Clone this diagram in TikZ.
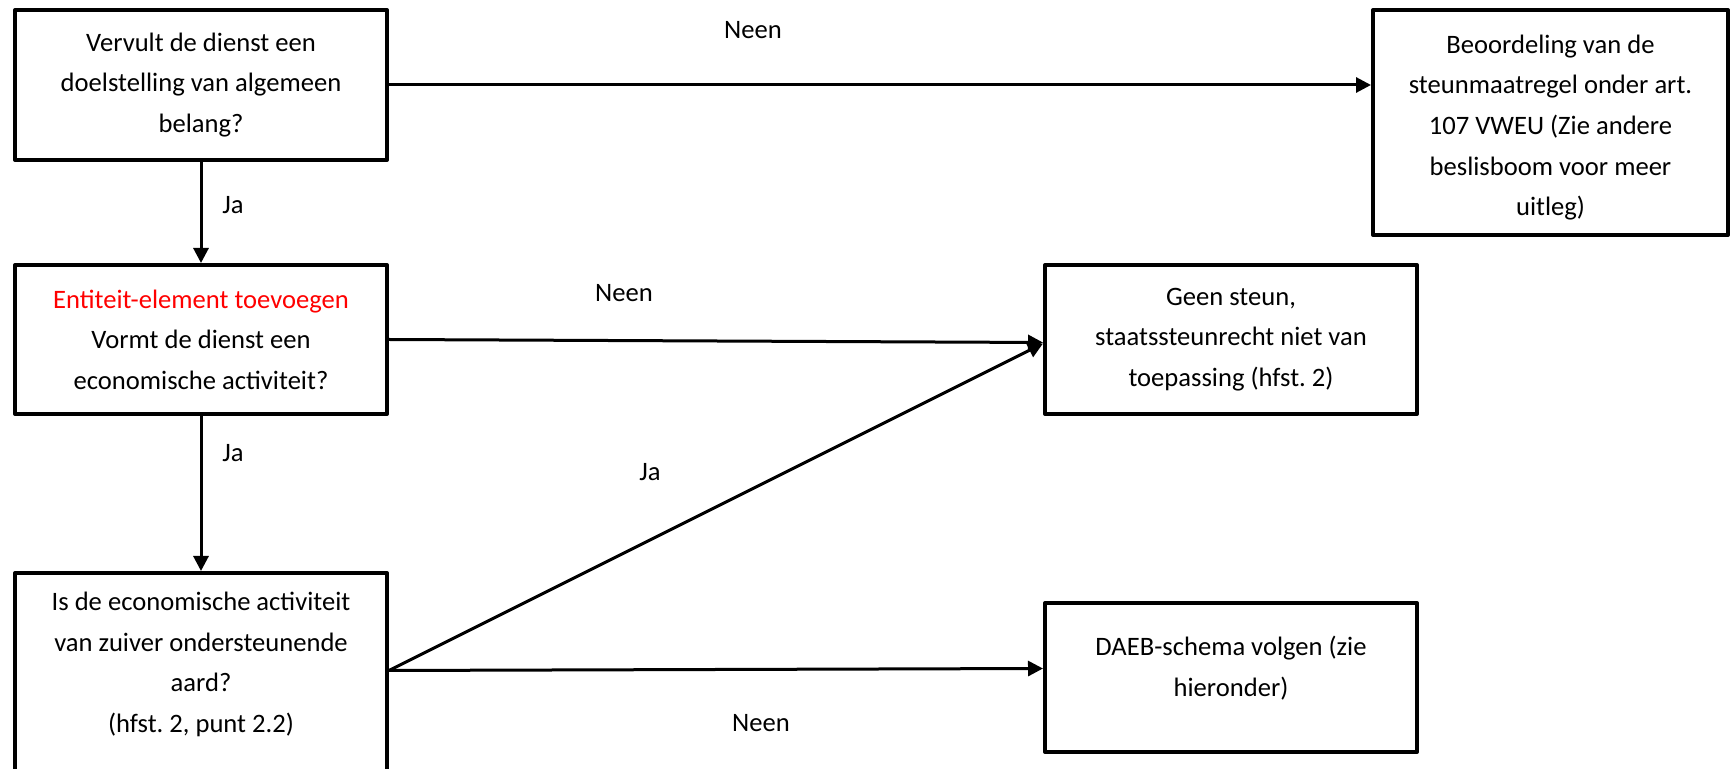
\documentclass[tikz,border=0pt]{standalone}
\usepackage{fontspec}
\setmainfont{Carlito}
\frenchspacing
\usetikzlibrary{arrows.meta,calc}
\definecolor{addred}{RGB}{255,0,0}
\tikzset{
  box/.style={draw=black, line width=2pt, line join=round, fill=white,
    align=center, inner sep=0pt, minimum width=186pt,
    font=\fontsize{13.3}{20.3}\selectfont},
  conn/.style={line width=1.5pt, -{Triangle[length=7.5pt,width=7.5pt]}},
  lbl/.style={inner sep=0pt, font=\fontsize{13.3}{20.3}\selectfont}
}
\begin{document}
\begin{tikzpicture}[x={(0.5pt,0)}, y={(0,-0.5pt)}]
\useasboundingbox (0,0) rectangle (1731,769);
\clip (0,0) rectangle (1731,769);
\fill[white] (0,0) rectangle (1731,769);

\node[box, minimum height=75pt] (b1) at (201,85)
  {Vervult de dienst een\\doelstelling van algemeen\\belang?};
\node[box, minimum width=177.5pt, minimum height=112.5pt] (b2) at (1550.5,122.5)
  {\strut Beoordeling van de\\steunmaatregel onder art.\\107 VWEU (Zie andere\\beslisboom voor meer\\uitleg)};
\node[box, minimum height=74.5pt] (b3) at (201,339.5)
  {\textcolor{addred}{Entiteit-element toevoegen}\\Vormt de dienst een\\economische activiteit?};
\node[box, minimum height=74.5pt] (b4) at (1231,339.5)
  {Geen steun,\\staatssteunrecht niet van\\toepassing (hfst. 2)};
\node[box, minimum height=110.5pt] (b5) at (201,683.5)
  {\strut Is de economische activiteit\\van zuiver ondersteunende\\aard?\\(hfst. 2, punt 2.2)\\\strut};
\node[box, minimum height=74.5pt, text depth=11pt] (b6) at (1231,677.5)
  {DAEB-schema volgen (zie\\hieronder)};

\coordinate (o5) at ($(b5.east)+(0,-13)$);

\draw[conn] (b1.east) -- (b1.east -| b2.west);
\draw[conn] (b1.south) -- (b3.north);
\draw[conn] (b3.east) -- ([yshift=-1.5pt]b4.west);
\draw[conn] (b3.south) -- (b5.north);
\draw[conn] (o5) -- ([yshift=-2pt]b4.west);
\draw[conn] (o5) -- ([yshift=1pt]o5 -| b6.west);

\node[lbl] (l1) at (753,30) {Neen};
\node[lbl] (l2) at (233,205) {Ja};
\node[lbl] (l3) at (624,293) {Neen};
\node[lbl] (l4) at (233,453) {Ja};
\node[lbl] (l5) at (650,472) {Ja};
\node[lbl] (l6) at (761,723) {Neen};
\end{tikzpicture}
\end{document}
